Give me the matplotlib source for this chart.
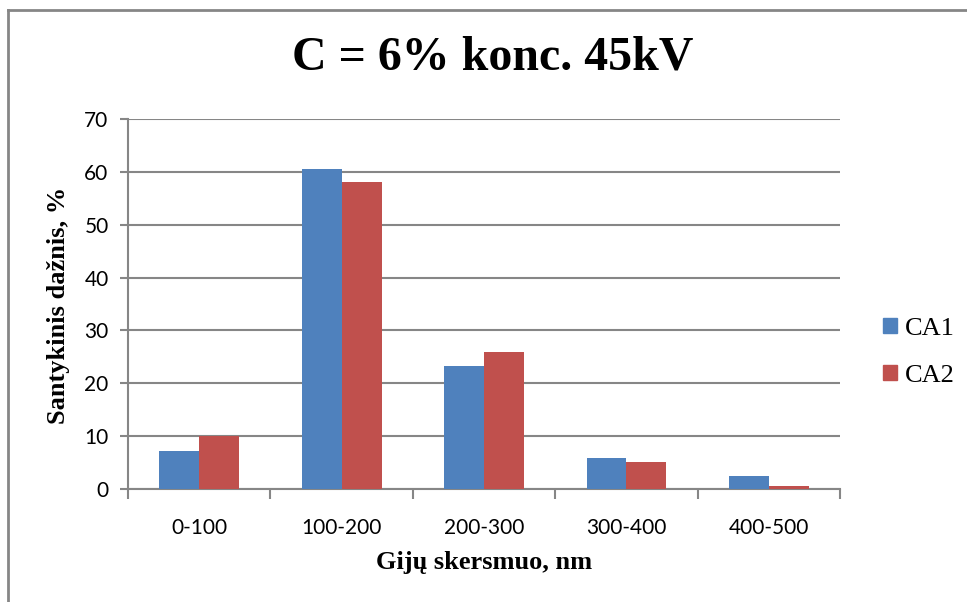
import numpy as np
import matplotlib.pyplot as plt
from matplotlib.lines import Line2D
from matplotlib.patches import Patch

categories = ['0-100', '100-200', '200-300', '300-400', '400-500']
ca1 = [7.2, 60.6, 23.3, 5.9, 2.5]
ca2 = [10.0, 58.0, 26.0, 5.1, 0.6]

blue = '#4F81BD'
red = '#C0504D'
grey = '#868686'

fig = plt.figure(figsize=(9.67, 6.02), dpi=100)
ax = fig.add_axes([0.1324, 0.1877, 0.7363, 0.6146])

x = np.arange(len(categories))
w = 0.28
ax.bar(x - w / 2, ca1, width=w, color=blue, label='CA1', zorder=3)
ax.bar(x + w / 2, ca2, width=w, color=red, label='CA2', zorder=3)

ax.set_xlim(-0.5, len(categories) - 0.5)
ax.set_ylim(0, 70)
ax.set_yticks(range(0, 71, 10))
ax.yaxis.grid(True, color=grey, linewidth=1.5, zorder=0)

# category labels in the middle, tick marks on the boundaries
ax.set_xticks(x)
ax.set_xticklabels(categories)
ax.set_xticks(np.arange(-0.5, len(categories)), minor=True)
ax.tick_params(axis='x', which='major', length=0, pad=21)
ax.tick_params(axis='x', which='minor', length=7, width=1.5, color=grey)
ax.tick_params(axis='y', length=6, width=1.5, color=grey, pad=8)
for lab in ax.get_xticklabels() + ax.get_yticklabels():
    lab.set_fontfamily('Lato')
    lab.set_fontsize(15)

for side in ['top', 'right']:
    ax.spines[side].set_visible(False)
for side in ['left', 'bottom']:
    ax.spines[side].set_color(grey)
    ax.spines[side].set_linewidth(1.5)

serif = 'Liberation Serif'
fig.text(0.509, 0.905, 'C = 6% konc. 45kV', ha='center', va='center',
         fontfamily=serif, fontweight='bold', fontsize=34.5)
fig.text(0.501, 0.065, 'Gijų skersmuo, nm', ha='center', va='center',
         fontfamily=serif, fontweight='bold', fontsize=19)
fig.text(0.060, 0.493, 'Santykinis dažnis, %', ha='center', va='center',
         rotation=90, fontfamily=serif, fontweight='bold', fontsize=19)

handles = [Patch(color=blue), Patch(color=red)]
fig.legend(handles, ['CA1', 'CA2'], loc='center left',
           bbox_to_anchor=(0.889, 0.415), frameon=False,
           prop={'family': serif, 'size': 19},
           handlelength=0.5, handleheight=0.5, handletextpad=0.3,
           labelspacing=0.95)

# chart area border
fig.add_artist(Line2D([0.0078, 0.0078], [0.0, 0.9826], color=grey, linewidth=2))
fig.add_artist(Line2D([0.0078, 1.0], [0.9826, 0.9826], color=grey, linewidth=2))

fig.savefig('out.png', dpi=100)
